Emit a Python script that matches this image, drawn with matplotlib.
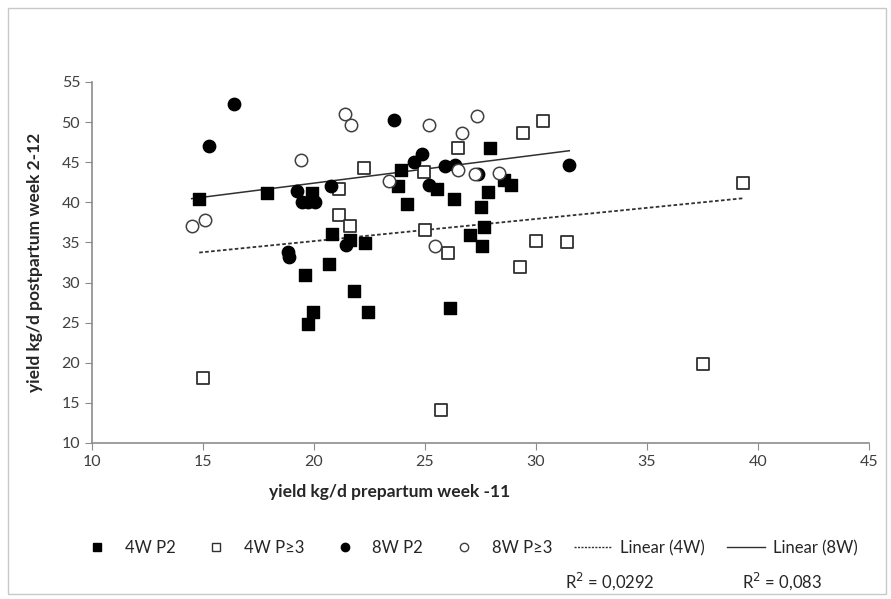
import numpy as np
import matplotlib.pyplot as plt
from matplotlib.lines import Line2D
from matplotlib.patches import Rectangle

plt.rcParams['font.family'] = ['Lato', 'DejaVu Sans']

# 4W, parity 2 (filled squares)
w4_p2_x = [14.83, 17.87, 19.93, 20.83, 21.62, 22.30, 20.69, 19.61, 21.79, 19.97, 19.74, 22.44, 26.13,
           27.58, 27.04, 27.66, 27.53, 27.84, 26.31, 24.20, 25.52, 23.80, 23.90, 28.57, 28.87, 27.95]
w4_p2_y = [40.4, 41.2, 41.2, 36.0, 35.3, 34.9, 32.3, 30.9, 28.9, 26.3, 24.8, 26.3, 26.8,
           34.5, 35.9, 36.9, 39.4, 41.25, 40.4, 39.75, 41.7, 42.0, 44.0, 42.75, 42.1, 46.8]

# 4W, parity >=3 (open squares)
w4_p3_x = [21.14, 21.14, 21.62, 22.27, 15.01, 25.72, 29.28, 30.00, 31.38, 26.02, 24.96, 25.00,
           26.50, 29.40, 30.32, 39.32, 37.50]
w4_p3_y = [41.6, 38.4, 37.1, 44.3, 18.1, 14.1, 32.0, 35.2, 35.0, 33.7, 43.8, 36.6,
           46.8, 48.7, 50.2, 42.4, 19.8]

# 8W, parity 2 (filled circles)
w8_p2_x = [16.41, 15.28, 19.25, 19.44, 19.74, 20.05, 20.75, 18.84, 18.89, 21.42, 24.85, 24.50,
           25.90, 26.33, 25.20, 27.40, 23.60, 31.50]
w8_p2_y = [52.2, 47.0, 41.4, 40.0, 40.0, 40.0, 42.0, 33.8, 33.2, 34.7, 46.0, 45.0,
           44.55, 44.6, 42.1, 43.5, 50.3, 44.6]

# 8W, parity >=3 (open circles)
w8_p3_x = [14.49, 15.09, 19.43, 21.38, 21.67, 25.18, 26.68, 27.35, 23.39, 26.50, 27.25, 28.33, 25.47]
w8_p3_y = [37.0, 37.75, 45.3, 51.0, 49.6, 49.6, 48.7, 50.7, 42.6, 44.0, 43.5, 43.7, 34.5]

r2_labels = ["R$^2$ = 0,0292", "R$^2$ = 0,083"]

fig = plt.figure(figsize=(8.91, 5.99), dpi=100)
fig.patches.append(Rectangle((8 / 891, 5 / 599), 878 / 891, 586 / 599, transform=fig.transFigure,
                             fill=False, edgecolor='#c8c8c8', linewidth=1))
ax = fig.add_axes([92 / 891, 156 / 599, 777 / 891, 361 / 599])

ms = 76
ax.scatter(w4_p2_x, w4_p2_y, marker='s', s=ms, color='black', zorder=3)
ax.scatter(w4_p3_x, w4_p3_y, marker='s', s=ms * 0.85, facecolor='white', edgecolor='#303030',
           linewidth=1.3, zorder=3)
ax.scatter(w8_p2_x, w8_p2_y, marker='o', s=ms * 1.05, color='black', zorder=3)
ax.scatter(w8_p3_x, w8_p3_y, marker='o', s=ms * 1.05, facecolor='white', edgecolor='#404040',
           linewidth=1.1, zorder=3)

# linear trend lines fitted on each group
x4 = np.array(w4_p2_x + w4_p3_x)
y4 = np.array(w4_p2_y + w4_p3_y)
x8 = np.array(w8_p2_x + w8_p3_x)
y8 = np.array(w8_p2_y + w8_p3_y)
k4, b4 = np.polyfit(x4, y4, 1)
k8, b8 = np.polyfit(x8, y8, 1)
xs4 = np.array([x4.min(), x4.max()])
xs8 = np.array([x8.min(), x8.max()])
ax.plot(xs4, k4 * xs4 + b4, color='#303030', linewidth=1.3, dashes=(2, 1.3), zorder=2)
ax.plot(xs8, k8 * xs8 + b8, color='#303030', linewidth=1.1, zorder=2)

ax.set_xlim(10, 45)
ax.set_ylim(10, 55)
ax.set_xticks(range(10, 46, 5))
ax.set_yticks(range(10, 56, 5))
for side in ['top', 'right']:
    ax.spines[side].set_visible(False)
for side in ['left', 'bottom']:
    ax.spines[side].set_color('#8c8c8c')
    ax.spines[side].set_linewidth(1.2)
ax.tick_params(direction='out', length=5, color='#8c8c8c', labelsize=11.5, labelcolor='#404040')

fig.text(390 / 891, 1 - 492 / 599, 'yield kg/d prepartum week -11', ha='center', va='center',
         fontsize=12.5, fontweight='bold', color='#262626')
fig.text(35 / 891, 1 - 262 / 599, 'yield kg/d postpartum week 2-12', ha='center', va='center',
         rotation=90, fontsize=12.5, fontweight='bold', color='#262626')

handles = [
    Line2D([], [], marker='s', linestyle='none', color='black', markersize=6),
    Line2D([], [], marker='s', linestyle='none', markerfacecolor='white', markeredgecolor='#303030',
           markersize=6),
    Line2D([], [], marker='o', linestyle='none', color='black', markersize=6),
    Line2D([], [], marker='o', linestyle='none', markerfacecolor='white', markeredgecolor='#404040',
           markersize=6),
    Line2D([], [], color='#303030', linewidth=1, dashes=(1.5, 1)),
    Line2D([], [], color='#303030', linewidth=1),
]
labels = ['4W P2', '4W P≥3', '8W P2', '8W P≥3', 'Linear (4W)', 'Linear (8W)']
fig.legend(handles, labels, loc='center', bbox_to_anchor=(468 / 891, 1 - 548 / 599), ncol=6,
           frameon=False, fontsize=12, handlelength=2.3, handletextpad=0.5, columnspacing=1.3,
           labelcolor='#262626')
fig.text(610 / 891, 1 - 581 / 599, r2_labels[0], ha='center', va='center', fontsize=12, color='#262626')
fig.text(782 / 891, 1 - 581 / 599, r2_labels[1], ha='center', va='center', fontsize=12, color='#262626')

fig.savefig('out.png', dpi=100)
